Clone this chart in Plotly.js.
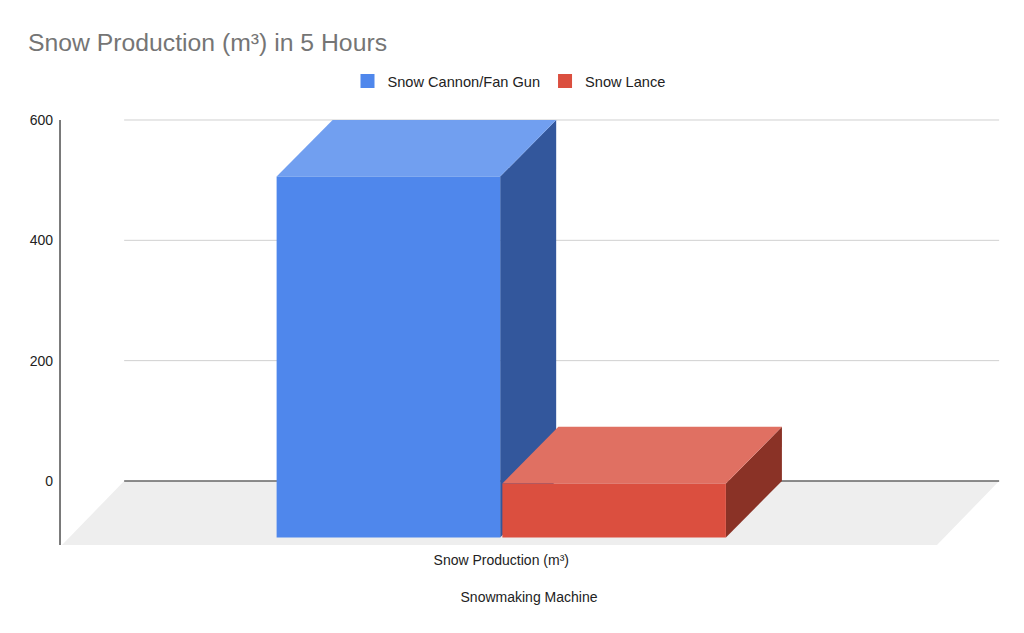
<!DOCTYPE html>
<html>
<head>
<meta charset="utf-8">
<script src="https://cdn.plot.ly/plotly-3.0.1.min.js"></script>
<style>html,body{margin:0;padding:0;background:#fff;}#chart{width:1024px;height:633px;}</style>
</head>
<body>
<div id="chart"></div>
<script>
// ---- data ----
const categories = ['Snow Production (m³)'];
const seriesNames = ['Snow Cannon/Fan Gun', 'Snow Lance'];
const seriesValues = [600, 90];
const yTickValues = [0, 200, 400, 600];
const yTickLabels = ['0', '200', '400', '600'];
const chartTitle = 'Snow Production (m³) in 5 Hours';
const xAxisTitle = 'Snowmaking Machine';

// ---- styles ----
const frontColors = ['#4f87ec', '#db4f3f'];
const topColors = ['#719ff0', '#e07062'];
const sideColors = ['#33579c', '#8a3226'];
const FONT = 'Liberation Sans, Arial, sans-serif';

// ---- 3D geometry (axis units) ----
const BAR_W = 0.2555, BAR_GAP = 0.0025, GROUP_C = 0.002;
const BAR_DX = 0.064, BAR_DY = 94;
const FLOOR_DX = 0.071, FLOOR_DY = 106.4;
const X_LEFT = -0.5, X_RIGHT = 0.5;

const traces = [];
// floor
traces.push({
  x: [X_LEFT, X_LEFT + FLOOR_DX, X_RIGHT + FLOOR_DX, X_RIGHT, X_LEFT],
  y: [-FLOOR_DY, 0, 0, -FLOOR_DY, -FLOOR_DY],
  mode: 'lines', fill: 'toself', fillcolor: '#eeeeee', line: {width: 0, color: '#eeeeee'},
  hoverinfo: 'skip', showlegend: false
});
// gridlines on back wall
yTickValues.forEach(v => {
  traces.push({
    x: [X_LEFT + FLOOR_DX, X_RIGHT + FLOOR_DX], y: [v, v], mode: 'lines',
    line: {color: v === 0 ? '#666666' : '#d0d0d0', width: v === 0 ? 1.6 : 1},
    hoverinfo: 'skip', showlegend: false
  });
});
// bars
const n = seriesValues.length;
const groupStart = GROUP_C - (n * BAR_W + (n - 1) * BAR_GAP) / 2;
seriesValues.forEach((v, i) => {
  const x0 = groupStart + i * (BAR_W + BAR_GAP);
  const x1 = x0 + BAR_W;
  const b = -BAR_DY, t = v - BAR_DY;
  // side
  traces.push({x: [x1, x1 + BAR_DX, x1 + BAR_DX, x1, x1], y: [b, 0, v, t, b],
    mode: 'lines', fill: 'toself', fillcolor: sideColors[i], line: {width: 0, color: sideColors[i]},
    hoverinfo: 'skip', showlegend: false});
  // top
  traces.push({x: [x0, x0 + BAR_DX, x1 + BAR_DX, x1, x0], y: [t, v, v, t, t],
    mode: 'lines', fill: 'toself', fillcolor: topColors[i], line: {width: 0, color: topColors[i]},
    hoverinfo: 'skip', showlegend: false});
  // front
  traces.push({x: [x0, x1, x1, x0, x0], y: [b, b, t, t, b],
    mode: 'lines', fill: 'toself', fillcolor: frontColors[i], line: {width: 0, color: frontColors[i]},
    name: seriesNames[i], hoverinfo: 'name+text', text: String(v), showlegend: false});
});
// y axis line
traces.push({x: [-0.5023, -0.5023], y: [-FLOOR_DY, yTickValues[yTickValues.length - 1]], mode: 'lines',
  line: {color: '#333333', width: 1.3}, hoverinfo: 'skip', showlegend: false});
// legend entries
seriesNames.forEach((name, i) => {
  traces.push({x: [null], y: [null], mode: 'markers', name: name,
    marker: {symbol: 'square', size: 14, color: frontColors[i]}, showlegend: true});
});

const layout = {
  width: 1024, height: 633,
  paper_bgcolor: '#ffffff', plot_bgcolor: 'rgba(0,0,0,0)',
  margin: {l: 58, r: 24, t: 110, b: 83},
  font: {family: FONT, size: 14, color: '#222222'},
  title: {text: chartTitle, x: 28 / 1024, xref: 'container', xanchor: 'left',
    y: 1 - 42 / 633, yref: 'container', yanchor: 'middle',
    font: {family: FONT, size: 24.75, color: '#757575'}},
  showlegend: true,
  legend: {orientation: 'h', xref: 'container', x: 509 / 1024, xanchor: 'center',
    yref: 'container', y: 1 - 81 / 633, yanchor: 'middle',
    font: {family: FONT, size: 14.6, color: '#222222'}, itemclick: false},
  xaxis: {range: [-0.5046, 0.572], showgrid: false, zeroline: false, showline: false,
    tickvals: [GROUP_C], ticktext: categories, ticks: '', fixedrange: true,
    tickfont: {family: FONT, size: 14, color: '#222222'},
    title: {text: xAxisTitle, font: {family: FONT, size: 14, color: '#222222'}, standoff: 25}},
  yaxis: {range: [-114.7, 616.6], showgrid: false, zeroline: false, showline: false,
    tickvals: yTickValues, ticktext: yTickLabels, ticks: '', fixedrange: true,
    ticklabelstandoff: 4,
    tickfont: {family: FONT, size: 14, color: '#222222'}},
  hovermode: 'closest'
};

Plotly.newPlot('chart', traces, layout, {displayModeBar: false, staticPlot: false});
</script>
</body>
</html>
